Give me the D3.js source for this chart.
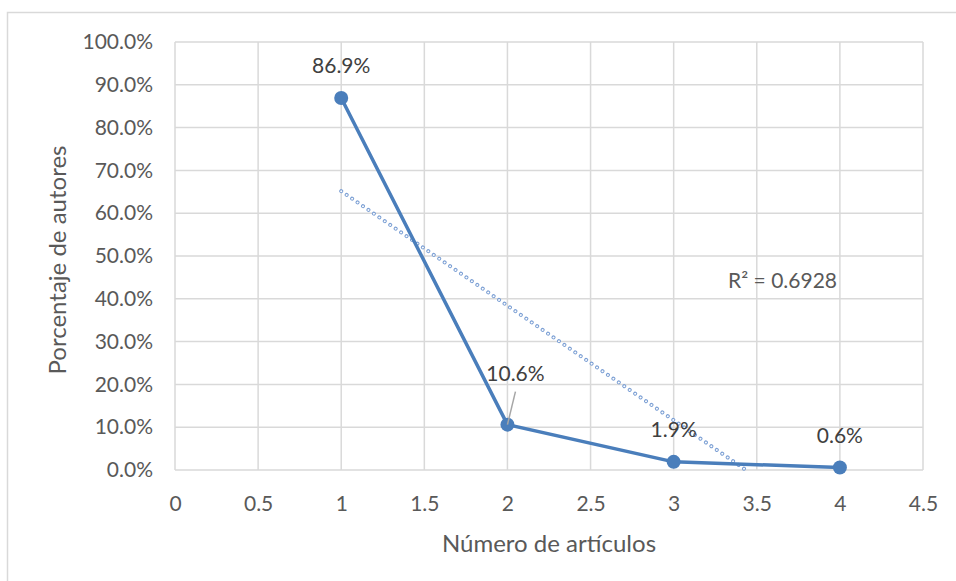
<!DOCTYPE html>
<html>
<head>
<meta charset="utf-8">
<script src="https://cdn.jsdelivr.net/npm/d3@7"></script>
<style>
  body { margin: 0; background: #fff; }
  text { font-family: Lato, "Open Sans", sans-serif; fill: #595959; }
</style>
</head>
<body>
<svg id="chart" width="956" height="581"></svg>
<script>
// data
const articulos = [1, 2, 3, 4];
const porcentaje = [86.9, 10.6, 1.9, 0.6];
const xTicks = [0, 0.5, 1, 1.5, 2, 2.5, 3, 3.5, 4, 4.5];
const yTicks = [0, 10, 20, 30, 40, 50, 60, 70, 80, 90, 100];
const r2Label = 'R² = 0.6928';

const width = 956, height = 581;
const margin = { top: 42, right: 33, bottom: 111, left: 175 };
const svg = d3.select('#chart');

// chart border
svg.append('rect')
    .attr('x', 7.5).attr('y', 12.5)
    .attr('width', 960).attr('height', 580)
    .attr('fill', 'none').attr('stroke', '#d9d9d9').attr('stroke-width', 1.5);

const x = d3.scaleLinear().domain([0, 4.5]).range([margin.left, width - margin.right]);
const y = d3.scaleLinear().domain([0, 100]).range([height - margin.bottom, margin.top]);

// grid
const grid = svg.append('g').attr('stroke', '#d9d9d9').attr('stroke-width', 1.5);
xTicks.forEach(t => {
    grid.append('line')
        .attr('x1', x(t)).attr('x2', x(t))
        .attr('y1', y(0)).attr('y2', y(100));
});
yTicks.forEach(t => {
    grid.append('line')
        .attr('x1', x(0)).attr('x2', x(4.5))
        .attr('y1', y(t)).attr('y2', y(t));
});

// axes (labels only, Excel style)
const xAxis = svg.append('g')
    .attr('transform', `translate(0,${y(0)})`)
    .call(d3.axisBottom(x).tickValues(xTicks).tickSize(0).tickPadding(26).tickFormat(d3.format('')));
const yAxis = svg.append('g')
    .attr('transform', `translate(${x(0)},0)`)
    .call(d3.axisLeft(y).tickValues(yTicks).tickSize(0).tickPadding(22).tickFormat(d => d.toFixed(1) + '%'));
[xAxis, yAxis].forEach(a => {
    a.select('.domain').remove();
    a.selectAll('text').style('font-size', '21px').attr('fill', '#595959');
});

// axis titles
svg.append('text')
    .attr('x', (x(0) + x(4.5)) / 2).attr('y', 552)
    .attr('text-anchor', 'middle').style('font-size', '24px')
    .text('Número de artículos');
svg.append('text')
    .attr('transform', `translate(66,${(y(0) + y(100)) / 2 + 4}) rotate(-90)`)
    .attr('text-anchor', 'middle').style('font-size', '24px')
    .text('Porcentaje de autores');

// linear trendline (least squares), drawn as hollow dots
const mx = d3.mean(articulos), my = d3.mean(porcentaje);
const slope = d3.sum(articulos, (d, i) => (d - mx) * (porcentaje[i] - my)) /
              d3.sum(articulos, d => (d - mx) ** 2);
const intercept = my - slope * mx;
const xEnd = Math.min(d3.max(articulos), -intercept / slope);
[['#7b9fd4', 4], ['#ffffff', 2]].forEach(([c, w]) => {
    svg.append('line')
        .attr('x1', x(1)).attr('y1', y(slope * 1 + intercept))
        .attr('x2', x(xEnd)).attr('y2', y(slope * xEnd + intercept))
        .attr('stroke', c).attr('stroke-width', w)
        .attr('stroke-dasharray', '0.01 6.6').attr('stroke-linecap', 'round');
});

svg.append('text')
    .attr('x', 728).attr('y', 288)
    .attr('textLength', 109)
    .style('font-size', '21px')
    .text(r2Label);

// series line
const pts = articulos.map((d, i) => [d, porcentaje[i]]);
svg.append('path')
    .datum(pts)
    .attr('fill', 'none').attr('stroke', '#4a7ebb').attr('stroke-width', 3.5)
    .attr('stroke-linejoin', 'round')
    .attr('d', d3.line().x(d => x(d[0])).y(d => y(d[1])));
svg.selectAll('circle.pt')
    .data(pts).join('circle')
    .attr('class', 'pt')
    .attr('cx', d => x(d[0])).attr('cy', d => y(d[1]))
    .attr('r', 7).attr('fill', '#4a7ebb');

// data labels
const labelOffsets = [
    { dx: 0, dy: -25 },
    { dx: 8, dy: -44 },
    { dx: 0, dy: -25 },
    { dx: 0, dy: -24 }
];
// leader line for the 10.6% label
svg.append('line')
    .attr('x1', x(2) + 8).attr('y1', y(10.6) - 33)
    .attr('x2', x(2)).attr('y2', y(10.6))
    .attr('stroke', '#a6a6a6').attr('stroke-width', 1.5);
svg.selectAll('text.lbl')
    .data(pts).join('text')
    .attr('class', 'lbl')
    .attr('x', (d, i) => x(d[0]) + labelOffsets[i].dx)
    .attr('y', (d, i) => y(d[1]) + labelOffsets[i].dy)
    .attr('text-anchor', 'middle')
    .style('font-size', '21px').style('fill', '#404040')
    .text(d => d[1].toFixed(1) + '%');
</script>
</body>
</html>
